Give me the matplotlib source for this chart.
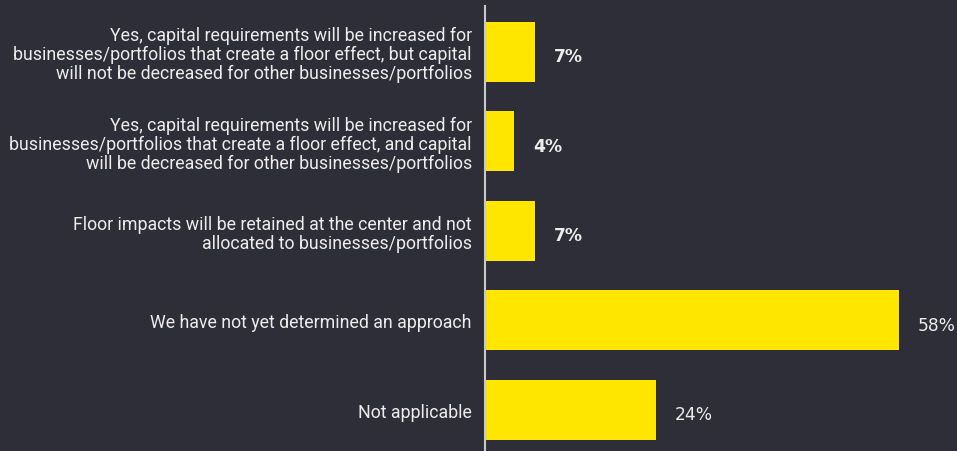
import matplotlib
matplotlib.use("Agg")
import matplotlib.pyplot as plt

categories = [
    "Yes, capital requirements will be increased for\nbusinesses/portfolios that create a floor effect, but capital\nwill not be decreased for other businesses/portfolios",
    "Yes, capital requirements will be increased for\nbusinesses/portfolios that create a floor effect, and capital\nwill be decreased for other businesses/portfolios",
    "Floor impacts will be retained at the center and not\nallocated to businesses/portfolios",
    "We have not yet determined an approach",
    "Not applicable",
]
values = [7, 4, 7, 58, 24]
value_labels = ["7%", "4%", "7%", "58%", "24%"]

BG = "#2e2e38"
YELLOW = "#ffe600"
TXT = "#ececec"

W, H = 957, 452
fig = plt.figure(figsize=(W / 100, H / 100), dpi=100, facecolor=BG)
ax = fig.add_axes([485 / W, 0, 1 - 485 / W, (452 - 7) / H])
ax.set_facecolor(BG)

ypos = list(range(len(values)))
ax.barh(ypos, values, height=0.67, color=YELLOW)
ax.set_ylim(4.46, -0.51)
ax.set_xlim(0, 66.1)

for y, v, lab in zip(ypos, values, value_labels):
    bold = v < 10
    ax.text(v + 2.7 if bold else v + 2.6, y + 0.05, lab, color=TXT, va="center", ha="left",
            fontsize=12.3, fontweight="bold" if bold else "normal", family="DejaVu Sans")

ax.set_yticks(ypos)
ax.set_yticklabels(categories, fontsize=12.8, color=TXT, family="Roboto", linespacing=1.08)
ax.tick_params(axis="y", length=0, pad=9.5)
ax.set_xticks([])
for s in ["top", "right", "bottom"]:
    ax.spines[s].set_visible(False)
ax.spines["left"].set_color("#c8c8c8")
ax.spines["left"].set_linewidth(1.5)

fig.savefig("out.png", dpi=100, facecolor=BG)
